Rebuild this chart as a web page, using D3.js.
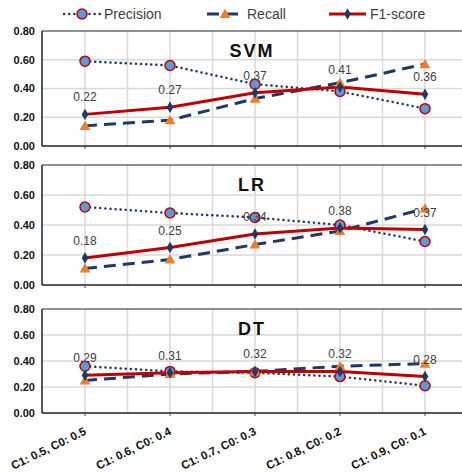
<!DOCTYPE html>
<html>
<head>
<meta charset="utf-8">
<script src="https://cdn.jsdelivr.net/npm/d3@7.9.0/dist/d3.min.js"></script>
<style>
  body { margin: 0; background: #fff; }
  svg { display: block; font-family: "Liberation Sans", Arial, sans-serif; }
</style>
</head>
<body>
<svg id="chart" width="462" height="472"></svg>
<script>
// categories along the bottom
const categories = ["C1: 0.5, C0: 0.5", "C1: 0.6, C0: 0.4", "C1: 0.7, C0: 0.3", "C1: 0.8, C0: 0.2", "C1: 0.9, C0: 0.1"];
const models = ["SVM", "LR", "DT"];
const yTicks = [0, 0.2, 0.4, 0.6, 0.8];

// values
const svmPrecision = [0.59, 0.56, 0.43, 0.38, 0.26];
const svmRecall    = [0.14, 0.18, 0.33, 0.44, 0.57];
const svmF1        = [0.22, 0.27, 0.37, 0.41, 0.36];

const lrPrecision = [0.52, 0.48, 0.45, 0.40, 0.29];
const lrRecall    = [0.11, 0.17, 0.27, 0.36, 0.51];
const lrF1        = [0.18, 0.25, 0.34, 0.38, 0.37];

const dtPrecision = [0.36, 0.32, 0.31, 0.28, 0.21];
const dtRecall    = [0.25, 0.30, 0.32, 0.36, 0.38];
const dtF1        = [0.29, 0.31, 0.32, 0.32, 0.28];

const seriesByModel = {
  SVM: { precision: svmPrecision, recall: svmRecall, f1: svmF1 },
  LR:  { precision: lrPrecision,  recall: lrRecall,  f1: lrF1 },
  DT:  { precision: dtPrecision,  recall: dtRecall,  f1: dtF1 }
};

const navy = "#1f3864";
const red = "#c00000";
const orange = "#ed7d31";
const lightBlue = "#5b9bd5";
const grid = "#d9d9d9";

const svg = d3.select("#chart");

// panel vertical extents (plot area top / bottom)
const panels = [
  { name: "SVM", top: 31, bottom: 146 },
  { name: "LR",  top: 165, bottom: 285 },
  { name: "DT",  top: 309, bottom: 413 }
];

const x = d3.scaleBand().domain(categories).range([42.5, 467.5]);
const cx = d => x(d) + x.bandwidth() / 2;

const tri = d3.symbol().type(d3.symbolTriangle).size(50);
const dia = d3.symbol().type(d3.symbolDiamond).size(38);

panels.forEach((p, pi) => {
  const y = d3.scaleLinear().domain([0, 0.8]).range([p.bottom, p.top]);
  const s = seriesByModel[p.name];
  const g = svg.append("g");

  // horizontal gridlines
  g.selectAll(".hg").data(yTicks.filter(t => t > 0 && t < 0.8)).join("line")
    .attr("x1", 42.5).attr("x2", 467.5)
    .attr("y1", d => y(d)).attr("y2", d => y(d))
    .attr("stroke", grid).attr("stroke-width", 1.5);

  // vertical gridlines at centres and band edges
  const vx = [];
  categories.forEach(c => { vx.push(cx(c)); vx.push(x(c) + x.bandwidth()); });
  g.selectAll(".vg").data(vx).join("line")
    .attr("x1", d => d).attr("x2", d => d)
    .attr("y1", p.top).attr("y2", p.bottom)
    .attr("stroke", grid).attr("stroke-width", 1.5);

  // top border, left axis, bottom axis
  g.append("line").attr("x1", 42).attr("x2", 467).attr("y1", p.top).attr("y2", p.top)
    .attr("stroke", "#222").attr("stroke-width", 1);
  g.append("line").attr("x1", 42).attr("x2", 42).attr("y1", p.top).attr("y2", p.bottom)
    .attr("stroke", "#222").attr("stroke-width", 1.5);
  g.append("line").attr("x1", 42).attr("x2", 467).attr("y1", p.bottom).attr("y2", p.bottom)
    .attr("stroke", "#222").attr("stroke-width", 1.5);
  g.selectAll(".tk").data(categories).join("line")
    .attr("x1", d => cx(d)).attr("x2", d => cx(d))
    .attr("y1", p.bottom).attr("y2", p.bottom + 3)
    .attr("stroke", "#444").attr("stroke-width", 1);

  // y tick labels
  g.selectAll(".yl").data(yTicks).join("text")
    .attr("x", 35).attr("y", d => y(d)).attr("dy", "0.35em")
    .attr("text-anchor", "end").attr("font-size", 11).attr("font-weight", "bold")
    .attr("fill", "#111")
    .text(d3.format(".2f"));

  // panel title
  g.append("text").attr("x", 252).attr("y", p.top + 26)
    .attr("text-anchor", "middle").attr("font-size", 18).attr("font-weight", "bold")
    .attr("letter-spacing", 2).attr("fill", "#111").text(p.name);

  const line = d3.line().x((d, i) => cx(categories[i])).y(d => y(d));

  // Precision: dotted with circles
  g.append("path").attr("d", line(s.precision)).attr("fill", "none")
    .attr("stroke", navy).attr("stroke-width", 2.5)
    .attr("stroke-dasharray", "0.1 5").attr("stroke-linecap", "round");
  // Recall: long dashes
  g.append("path").attr("d", line(s.recall)).attr("fill", "none")
    .attr("stroke", navy).attr("stroke-width", 3)
    .attr("stroke-dasharray", "12 7");
  // F1: solid red
  g.append("path").attr("d", line(s.f1)).attr("fill", "none")
    .attr("stroke", red).attr("stroke-width", 3);

  g.selectAll(".pc").data(s.precision).join("circle")
    .attr("cx", (d, i) => cx(categories[i])).attr("cy", d => y(d)).attr("r", 5)
    .attr("fill", lightBlue).attr("stroke", red).attr("stroke-width", 1.5);
  g.selectAll(".rt").data(s.recall).join("path")
    .attr("d", tri)
    .attr("transform", (d, i) => `translate(${cx(categories[i])},${y(d) + 1})`)
    .attr("fill", orange);
  g.selectAll(".fd").data(s.f1).join("path")
    .attr("d", dia)
    .attr("transform", (d, i) => `translate(${cx(categories[i])},${y(d)})`)
    .attr("fill", navy);

  // F1 data labels
  g.selectAll(".fl").data(s.f1).join("text")
    .attr("x", (d, i) => cx(categories[i])).attr("y", d => y(d) - 13)
    .attr("text-anchor", "middle").attr("font-size", 12).attr("fill", "#404040")
    .text(d3.format(".2f"));

  // category labels only on the bottom panel
  if (pi === panels.length - 1) {
    g.selectAll(".xl").data(categories).join("text")
      .attr("transform", d => `translate(${cx(d) + 2},${p.bottom + 21}) rotate(-26)`)
      .attr("text-anchor", "end").attr("font-size", 11.5).attr("font-weight", "bold")
      .attr("fill", "#111").text(d => d);
  }
});

// legend
const legend = svg.append("g");
const ly = 14;
const items = [
  { label: "Precision", x0: 64, x1: 100, kind: "p" },
  { label: "Recall", x0: 207, x1: 243, kind: "r" },
  { label: "F1-score", x0: 329, x1: 366, kind: "f" }
];
items.forEach(it => {
  const l = legend.append("line").attr("x1", it.x0).attr("x2", it.x1).attr("y1", ly).attr("y2", ly);
  const mx = (it.x0 + it.x1) / 2;
  if (it.kind === "p") {
    l.attr("stroke", navy).attr("stroke-width", 2.5).attr("stroke-dasharray", "0.1 5").attr("stroke-linecap", "round");
    legend.append("circle").attr("cx", mx).attr("cy", ly).attr("r", 5)
      .attr("fill", lightBlue).attr("stroke", red).attr("stroke-width", 1.5);
  } else if (it.kind === "r") {
    l.attr("stroke", navy).attr("stroke-width", 3).attr("stroke-dasharray", "12 7");
    legend.append("path").attr("d", tri).attr("transform", `translate(${mx},${ly + 1})`).attr("fill", orange);
  } else {
    l.attr("stroke", red).attr("stroke-width", 3);
    legend.append("path").attr("d", dia).attr("transform", `translate(${mx},${ly})`).attr("fill", navy);
  }
  legend.append("text").attr("x", it.x1 + 4).attr("y", ly).attr("dy", "0.35em")
    .attr("font-size", 14).attr("fill", "#404040").text(it.label);
});
</script>
</body>
</html>
